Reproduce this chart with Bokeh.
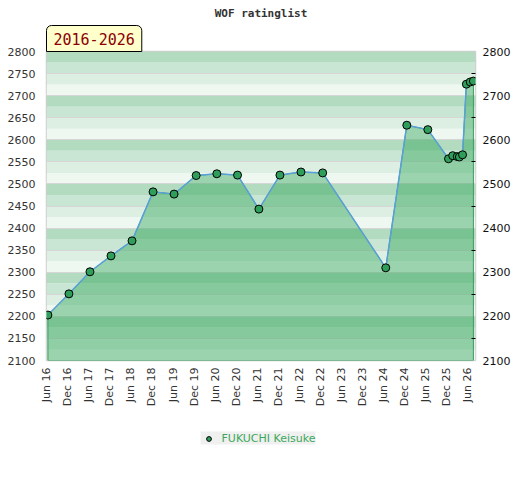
from math import pi
from bokeh.plotting import figure
from bokeh.layouts import column
from bokeh.models import (Range1d, FixedTicker, LinearAxis, BoxAnnotation, Title,
                          Legend, LegendItem, Grid)
from bokeh.embed import file_html
from bokeh.resources import INLINE

title_text = "WOF ratinglist"
period_text = "2016-2026"
player = "FUKUCHI Keisuke"

months = [0.3, 6.3, 12.3, 18.3, 24.3, 30.3, 36.3, 42.6, 48.5, 54.4, 60.5, 66.5,
          72.5, 78.7, 96.7, 102.7, 108.7, 114.6, 115.8, 117.1, 117.7, 118.6,
          119.7, 120.8, 121.7]
ratings = [2203, 2251, 2301, 2337, 2371, 2482, 2477, 2519, 2523, 2520, 2443, 2520,
           2527, 2525, 2310, 2633, 2623, 2557, 2564, 2562, 2561, 2566,
           2726, 2731, 2733]

tick_months = list(range(0, 121, 6))
tick_labels = ["Jun 16", "Dec 16", "Jun 17", "Dec 17", "Jun 18", "Dec 18", "Jun 19",
               "Dec 19", "Jun 20", "Dec 20", "Jun 21", "Dec 21", "Jun 22", "Dec 22",
               "Jun 23", "Dec 23", "Jun 24", "Dec 24", "Jun 25", "Dec 25", "Jun 26"]

y_min, y_max = 2100, 2800
left_ticks = list(range(2100, 2801, 50))
right_ticks = list(range(2100, 2801, 100))
right_minor = list(range(2150, 2800, 100))
band_colors = ["#eff7f1", "#ddefe3", "#c8e6d3", "#b2dbc0"]

p = figure(frame_width=429, frame_height=309, output_backend="svg", toolbar_location=None,
           x_range=Range1d(-0.1, 122.3), y_range=Range1d(y_min, y_max),
           min_border_left=42, min_border_right=0, min_border_top=0,
           min_border_bottom=0, title=None)
p.margin = (0, 0, 0, 4)

p.outline_line_color = "#cfcfcf"
p.outline_line_width = 1.5
p.xgrid.visible = False
p.ygrid.visible = False

for lo in range(y_min, y_max, 25):
    idx = (lo % 100) // 25
    p.add_layout(BoxAnnotation(bottom=lo, top=lo + 25, fill_color=band_colors[idx],
                               fill_alpha=1, line_alpha=0, level="underlay"))

p.add_layout(Grid(dimension=1, ticker=FixedTicker(ticks=left_ticks),
                  grid_line_color="#d6d6d6", grid_line_width=1, level="underlay"))

area_x = [months[0]] + months + [months[-1]]
area_y = [y_min] + ratings + [y_min]
p.patch(area_x, area_y, fill_color="#33a65c", fill_alpha=0.45,
        line_color="#3a9d5c", line_width=1)
p.line(months, ratings, line_color="#5aa0d8", line_width=1.5)
p.scatter(months, ratings, size=8, fill_color="#2e9e5a",
          line_color="black", line_width=1)

ax = p.xaxis[0]
ax.ticker = FixedTicker(ticks=tick_months)
ax.major_label_overrides = {m: l for m, l in zip(tick_months, tick_labels)}
ax.major_label_orientation = pi / 2
ax.axis_line_color = None
ax.major_tick_line_color = None
ax.major_tick_out = 0
ax.major_tick_in = 0
ax.minor_tick_line_color = None
ax.minor_tick_out = 0
ax.major_label_text_font = "DejaVu Sans"
ax.major_label_text_font_size = "11px"
ax.major_label_text_color = "#333333"
ax.major_label_standoff = 7

ay = p.yaxis[0]
ay.ticker = FixedTicker(ticks=left_ticks)
ay.axis_line_color = None
ay.major_tick_line_color = None
ay.major_tick_out = 0
ay.major_tick_in = 0
ay.minor_tick_line_color = None
ay.minor_tick_out = 0
ay.major_label_text_font = "DejaVu Sans"
ay.major_label_text_font_size = "11px"
ay.major_label_text_color = "#333333"
ay.major_label_standoff = 11

ry = LinearAxis(ticker=FixedTicker(ticks=right_ticks, minor_ticks=right_minor))
ry.axis_line_color = None
ry.major_tick_line_color = None
ry.major_tick_out = 0
ry.major_tick_in = 0
ry.minor_tick_in = 4
ry.minor_tick_out = 0
ry.minor_tick_line_color = "black"
ry.major_label_text_font = "DejaVu Sans"
ry.major_label_text_font_size = "11px"
ry.major_label_text_color = "#111111"
ry.major_label_standoff = 7
p.add_layout(ry, "right")

period = Title(text=period_text, align="left", offset=0, standoff=0,
               text_font="DejaVu Sans Mono", text_font_size="15px", text_color="#8b0000",
               text_font_style="normal",
               background_fill_color="#ffffcc", background_fill_alpha=1,
               border_line_color="black", border_line_width=1,
               padding=(7, 7), border_radius=(5, 5, 0, 0))
p.add_layout(period, "above")

main_title = Title(text=title_text, align="center", standoff=8,
                   text_font="DejaVu Sans Mono", text_font_size="11px",
                   text_font_style="bold", text_color="#333333")
p.add_layout(main_title, "above")

# legend strip below the chart
lp = figure(width=504, height=58, output_backend="svg", toolbar_location=None,
            x_range=Range1d(0, 1), y_range=Range1d(0, 1),
            x_axis_type=None, y_axis_type=None, min_border=0)
lp.margin = (0, 0, 0, 4)
lp.outline_line_color = None
legend_sc = lp.scatter(months, ratings, size=8, fill_color="#2e9e5a",
                       line_color="black", line_width=1)
legend = Legend(items=[LegendItem(label=player, renderers=[legend_sc])], location="center",
                orientation="horizontal", background_fill_color="#f0f0f0",
                background_fill_alpha=1, border_line_color=None,
                label_text_color="#3aa85a", label_text_font="DejaVu Sans",
                label_text_font_size="11px", padding=4, margin=0,
                glyph_width=16, glyph_height=12, label_height=12, label_standoff=5)
lp.add_layout(legend, "center")

layout = column(p, lp, spacing=0)
open("out.html", "w").write(file_html(layout, INLINE))
